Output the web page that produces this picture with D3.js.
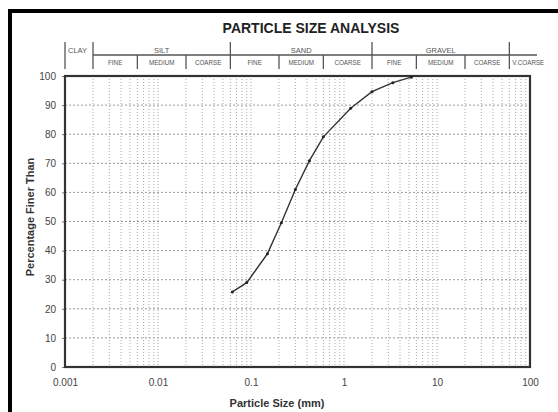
<!DOCTYPE html>
<html>
<head>
<meta charset="utf-8">
<script src="https://cdn.jsdelivr.net/npm/d3@7"></script>
<style>
  html, body { margin: 0; padding: 0; background: #fff; }
  svg { display: block; font-family: "Liberation Sans", Arial, sans-serif; }
</style>
</head>
<body>
<svg id="chart" width="558" height="412"></svg>
<script>
// ---- Data ----
const particleSizes = [0.063, 0.09, 0.15, 0.212, 0.3, 0.425, 0.6, 1.18, 2, 3.35, 5.3];
const percentFiner  = [25.8, 29.0, 38.9, 49.6, 61.0, 70.9, 79.1, 88.9, 94.6, 97.7, 99.6];

const xTickValues = [0.001, 0.01, 0.1, 1, 10, 100];
const xTickLabels = ["0.001", "0.01", "0.1", "1", "10", "100"];
const yTickValues = [0, 10, 20, 30, 40, 50, 60, 70, 80, 90, 100];

const classNames  = ["CLAY", "SILT", "SAND", "GRAVEL"];
const classBounds = [0.001, 0.002, 0.06, 2, 60];
const subNames    = ["FINE", "MEDIUM", "COARSE", "FINE", "MEDIUM", "COARSE", "FINE", "MEDIUM", "COARSE"];
const subBounds   = [0.002, 0.006, 0.02, 0.06, 0.2, 0.6, 2, 6, 20, 60];
const extraLabel  = "V.COARSE";

const titleText = "PARTICLE SIZE ANALYSIS";
const xTitle = "Particle Size (mm)";
const yTitle = "Percentage Finer Than";

// ---- Layout ----
const svg = d3.select("#chart");
const L = 65, R = 530, T = 76, B = 367;
const x = d3.scaleLog().domain([0.001, 100]).range([L, R]);
const y = d3.scaleLinear().domain([0, 100]).range([B, T]);

// outer frame (cropped at right/bottom)
svg.append("rect").attr("x", 10).attr("y", 11).attr("width", 700).attr("height", 600)
  .attr("fill", "none").attr("stroke", "#000").attr("stroke-width", 4);

// title
svg.append("text").attr("x", 311).attr("y", 33).attr("text-anchor", "middle")
  .attr("font-size", 14).attr("font-weight", "bold").attr("fill", "#222").text(titleText);

// ---- grid ----
const minor = [];
for (let e = -3; e < 2; e++) for (let m = 1; m <= 9; m++) minor.push(m * Math.pow(10, e));
svg.append("g").selectAll("line").data(minor.filter(d => d > 0.001)).join("line")
  .attr("x1", d => x(d)).attr("x2", d => x(d)).attr("y1", T).attr("y2", B)
  .attr("stroke", "#aaa").attr("stroke-width", 1).attr("stroke-dasharray", "1,2");
svg.append("g").selectAll("line").data(yTickValues.filter(d => d > 0 && d < 100)).join("line")
  .attr("x1", L).attr("x2", R).attr("y1", d => y(d)).attr("y2", d => y(d))
  .attr("stroke", "#999").attr("stroke-width", 1).attr("stroke-dasharray", "2,2");

// ---- axes ----
const xAxis = svg.append("g").attr("transform", `translate(0,${B})`)
  .call(d3.axisBottom(x).tickValues(xTickValues).tickSize(0).tickPadding(12)
    .tickFormat((d, i) => xTickLabels[i]));
xAxis.select(".domain").remove();
xAxis.selectAll("text").attr("font-size", 10).attr("fill", "#444").attr("font-family", "Liberation Sans, Arial, sans-serif");

const yAxis = svg.append("g").attr("transform", `translate(${L},0)`)
  .call(d3.axisLeft(y).tickValues(yTickValues).tickSize(3).tickPadding(6));
yAxis.select(".domain").remove();
yAxis.selectAll("line").attr("stroke", "#777");
yAxis.selectAll("text").attr("font-size", 10).attr("fill", "#444").attr("font-family", "Liberation Sans, Arial, sans-serif");

// plot frame
svg.append("rect").attr("x", L).attr("y", T).attr("width", R - L).attr("height", B - T)
  .attr("fill", "none").attr("stroke", "#333").attr("stroke-width", 2.2);

// axis titles
svg.append("text").attr("x", 277).attr("y", 407).attr("text-anchor", "middle")
  .attr("font-size", 11).attr("font-weight", "bold").attr("fill", "#333").text(xTitle);
svg.append("text").attr("transform", "translate(34,217) rotate(-90)").attr("text-anchor", "middle")
  .attr("font-size", 11).attr("font-weight", "bold").attr("fill", "#333").text(yTitle);

// ---- classification header ----
const hTop = 42, hMid = 55, hBot = 69;
const hdr = svg.append("g").attr("stroke", "#555").attr("stroke-width", 1.3);
hdr.selectAll("line.main").data(classBounds).join("line").attr("class", "main")
  .attr("x1", d => x(d)).attr("x2", d => x(d)).attr("y1", hTop).attr("y2", hBot);
hdr.append("line").attr("x1", x(0.002)).attr("x2", 537).attr("y1", hMid).attr("y2", hMid);
hdr.selectAll("line.sub").data(subBounds.slice(1, -1).filter(d => !classBounds.includes(d))).join("line").attr("class", "sub")
  .attr("x1", d => x(d)).attr("x2", d => x(d)).attr("y1", hMid).attr("y2", hBot);

svg.append("g").selectAll("text").data(classNames).join("text")
  .attr("x", (d, i) => i === 0 ? x(classBounds[0]) + 3 : (x(classBounds[i]) + x(classBounds[i + 1])) / 2)
  .attr("y", 53)
  .attr("text-anchor", (d, i) => i === 0 ? "start" : "middle")
  .attr("font-size", 7.5).attr("fill", "#555").text(d => d);

svg.append("g").selectAll("text").data(subNames).join("text")
  .attr("x", (d, i) => (x(subBounds[i]) + x(subBounds[i + 1])) / 2)
  .attr("y", 65).attr("text-anchor", "middle")
  .attr("font-size", 6.3).attr("fill", "#555").text(d => d);
svg.append("text").attr("x", x(60) + 3).attr("y", 65).attr("font-size", 6.3).attr("fill", "#555").text(extraLabel);

// ---- curve ----
const pts = particleSizes.map((d, i) => [d, percentFiner[i]]);
svg.append("path").datum(pts)
  .attr("fill", "none").attr("stroke", "#333").attr("stroke-width", 1.4)
  .attr("d", d3.line().x(d => x(d[0])).y(d => y(d[1])));
svg.append("g").selectAll("circle").data(pts).join("circle")
  .attr("cx", d => x(d[0])).attr("cy", d => y(d[1])).attr("r", 1.5).attr("fill", "#222");
</script>
</body>
</html>
